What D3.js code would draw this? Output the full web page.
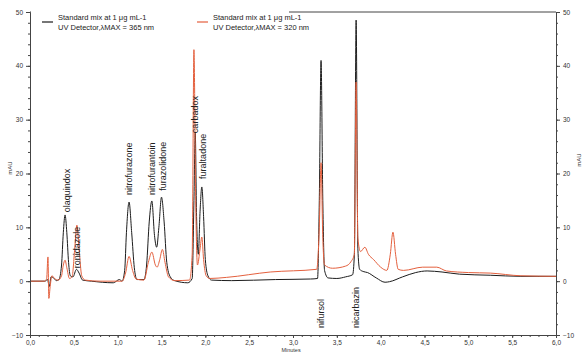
<!DOCTYPE html>
<html>
<head>
<meta charset="utf-8">
<script src="https://cdn.jsdelivr.net/npm/d3@7"></script>
<style>
  body { margin: 0; background: #fff; }
  svg { display: block; font-family: "Liberation Sans", Arial, sans-serif; }
</style>
</head>
<body>
<div id="chart"></div>
<script>
// chromatogram traces, [minutes, mAU]
var black365 = [
  [0, 0], [0.17, 0], [0.20, 0.3], [0.22, -1.0], [0.24, 0.8], [0.27, 0.6], [0.30, 0.1], [0.33, 0.3],
  [0.36, 3], [0.38, 9], [0.40, 12.3], [0.42, 9], [0.44, 3.5], [0.46, 1], [0.49, 0.8], [0.53, 2.2],
  [0.56, 1.5], [0.60, 0.2], [0.70, 0], [0.95, -0.3], [1.02, 0.3], [1.05, 0], [1.08, 2], [1.10, 9],
  [1.13, 14.7], [1.16, 9], [1.19, 2.5], [1.22, 0.3], [1.30, 0.3], [1.33, 3], [1.36, 11], [1.39, 14.9],
  [1.42, 8.5], [1.445, 6.3], [1.47, 10], [1.50, 15.6], [1.53, 11], [1.56, 3.5], [1.60, 0.8], [1.65, 0.1],
  [1.80, -0.3], [1.85, 0.5], [1.87, 15], [1.885, 27.5], [1.90, 12], [1.92, 5], [1.94, 13], [1.96, 17.5],
  [1.98, 12], [2.00, 4], [2.03, 1], [2.07, 0.2], [2.3, 0.1], [2.8, 0.3], [3.2, 0.4], [3.28, 0.5],
  [3.30, 15], [3.32, 41], [3.34, 15], [3.36, 2], [3.40, 0.6], [3.50, 0.5], [3.60, 0.8], [3.68, 1.2],
  [3.70, 5], [3.72, 48.5], [3.74, 6], [3.76, 2.2], [3.80, 1.8], [3.85, 1.6], [3.95, 0.6], [4.05, -0.2],
  [4.10, -0.1], [4.25, 0.8], [4.40, 1.6], [4.53, 1.9], [4.70, 1.7], [4.90, 1.3], [5.25, 1.1], [5.6, 0.9],
  [6.0, 0.9]
];

var orange320 = [
  [0, 0], [0.17, 0], [0.19, 0.5], [0.205, 4.5], [0.215, -3.2], [0.23, -1], [0.25, 1.0], [0.28, 0.5],
  [0.32, 0.2], [0.36, 1], [0.38, 3], [0.40, 3.9], [0.42, 2.5], [0.45, 0.5], [0.48, 0.8], [0.51, 6],
  [0.535, 10.4], [0.56, 6], [0.59, 1], [0.63, 0.2], [0.8, 0], [1.05, 0], [1.09, 1.5], [1.13, 4.6],
  [1.17, 2], [1.21, 0.4], [1.30, 0.2], [1.35, 3.5], [1.39, 5.4], [1.43, 3], [1.45, 2.6], [1.48, 4],
  [1.51, 5.9], [1.54, 3.5], [1.58, 0.8], [1.65, 0.1], [1.82, 0.2], [1.85, 5], [1.87, 43], [1.89, 15],
  [1.91, 3], [1.94, 6], [1.96, 8.2], [1.98, 4], [2.01, 1], [2.05, 0.5], [2.24, 0.7], [2.74, 1.7],
  [3.27, 2.2], [3.30, 10], [3.32, 22], [3.34, 8], [3.36, 3], [3.45, 2.4], [3.6, 2.8], [3.66, 3.6],
  [3.70, 5], [3.72, 37], [3.74, 8], [3.77, 5.5], [3.82, 6.3], [3.86, 5], [3.92, 4], [4.0, 2.6],
  [4.07, 2.0], [4.11, 5], [4.14, 9.1], [4.17, 5], [4.20, 2.2], [4.26, 2.0], [4.48, 2.6], [4.64, 2.6],
  [4.75, 1.9], [5.0, 1.6], [5.25, 1.5], [5.6, 1.0], [6.0, 0.9]
];

// peak names: [name, minutes, mAU where the label starts]
var peakNames = [
  ["olaquindox", 0.42, 12.8], ["ronidazole", 0.54, 2.4], ["nitrofurazone", 1.13, 16],
  ["nitrofurantoin", 1.39, 16], ["furazolidone", 1.52, 16.8], ["carbadox", 1.88, 27.5],
  ["furaltadone", 1.97, 19], ["nifursol", 3.32, -8.7], ["nicarbazin", 3.72, -8.7]
];

var xTicks = [0, 0.5, 1, 1.5, 2, 2.5, 3, 3.5, 4, 4.5, 5, 5.5, 6];
var yTicks = [-10, 0, 10, 20, 30, 40, 50];

var legendItems = [
  ["Standard mix at 1 μg mL-1", "UV Detector,λMAX = 365 nm", "#1c1c1c"],
  ["Standard mix at 1 μg mL-1", "UV Detector,λMAX = 320 nm", "#e4603e"]
];

var fullWidth = 586, fullHeight = 353;
var plotLeft = 30, plotRight = 556, plotTop = 12, plotBottom = 335;
var axisColor = "#444";

var svg = d3.select("#chart").append("svg")
  .attr("width", fullWidth)
  .attr("height", fullHeight);

var xScale = d3.scaleLinear().domain([0, 6]).range([plotLeft, plotRight]);
var yScale = d3.scaleLinear().domain([-10, 50]).range([plotBottom, plotTop]);

var comma = function(d) { return d3.format(".1f")(d).replace(".", ","); };

// top frame line
svg.append("line")
  .attr("x1", plotLeft).attr("x2", plotRight).attr("y1", plotTop).attr("y2", plotTop)
  .attr("stroke", axisColor).attr("stroke-width", 1);

// traces
var line = d3.line()
  .x(function(d) { return xScale(d[0]); })
  .y(function(d) { return yScale(d[1]); })
  .curve(d3.curveMonotoneX);

svg.append("path").datum(black365)
  .attr("d", line).attr("fill", "none")
  .attr("stroke", legendItems[0][2]).attr("stroke-width", 1);

svg.append("path").datum(orange320)
  .attr("d", line).attr("fill", "none")
  .attr("stroke", legendItems[1][2]).attr("stroke-width", 1);

// axes
function styleAxis(g) {
  g.selectAll("path").attr("stroke", axisColor);
  g.selectAll("line").attr("stroke", axisColor);
  g.selectAll("text").attr("fill", "#333").style("font-size", "6.5px");
}

var yMinor = d3.range(-10, 50.1, 2);
var xMinor = d3.range(0, 6.01, 0.1);

svg.append("g")
  .attr("transform", "translate(" + plotLeft + ",0)")
  .call(d3.axisLeft(yScale).tickValues(yMinor).tickSize(2).tickSizeOuter(0).tickFormat(""))
  .call(styleAxis);
svg.append("g")
  .attr("transform", "translate(" + plotLeft + ",0)")
  .call(d3.axisLeft(yScale).tickValues(yTicks).tickSize(4).tickPadding(3).tickSizeOuter(0).tickFormat(d3.format("d")))
  .call(styleAxis);

svg.append("g")
  .attr("transform", "translate(" + plotRight + ",0)")
  .call(d3.axisRight(yScale).tickValues(yMinor).tickSize(2).tickSizeOuter(0).tickFormat(""))
  .call(styleAxis);
svg.append("g")
  .attr("transform", "translate(" + plotRight + ",0)")
  .call(d3.axisRight(yScale).tickValues(yTicks).tickSize(4).tickPadding(3).tickSizeOuter(0).tickFormat(d3.format("d")))
  .call(styleAxis);

svg.append("g")
  .attr("transform", "translate(0," + plotBottom + ")")
  .call(d3.axisBottom(xScale).tickValues(xMinor).tickSize(2).tickSizeOuter(0).tickFormat(""))
  .call(styleAxis);
svg.append("g")
  .attr("transform", "translate(0," + plotBottom + ")")
  .call(d3.axisBottom(xScale).tickValues(xTicks).tickSize(3).tickPadding(2).tickSizeOuter(0).tickFormat(comma))
  .call(styleAxis);

// axis titles
svg.append("text")
  .attr("transform", "translate(" + (xScale(3) - 2) + "," + (fullHeight - 1) + ")")
  .style("text-anchor", "middle").style("font-size", "5.5px").attr("fill", "#333")
  .text("Minutes");

svg.append("text")
  .attr("transform", "translate(12," + yScale(21) + ") rotate(-90)")
  .style("text-anchor", "middle").style("font-size", "6px").attr("fill", "#333")
  .text("mAU");

svg.append("text")
  .attr("transform", "translate(581," + yScale(22.5) + ") rotate(-90)")
  .style("text-anchor", "middle").style("font-size", "6px").attr("fill", "#333")
  .text("mAU");

// peak names, rotated
peakNames.forEach(function(p) {
  svg.append("text")
    .attr("transform", "translate(" + (xScale(p[1]) + 3) + "," + yScale(p[2]) + ") rotate(-90)")
    .style("text-anchor", "start").style("font-size", "9px").attr("fill", "#222")
    .text(p[0]);
});

// legend, on a white box over the frame
svg.append("rect")
  .attr("x", plotLeft + 1).attr("y", plotTop - 3).attr("width", 258).attr("height", 26)
  .attr("fill", "#fff");

legendItems.forEach(function(item, i) {
  var lx = 42 + 155 * i;
  svg.append("line")
    .attr("x1", lx).attr("x2", lx + 11).attr("y1", 22).attr("y2", 22)
    .attr("stroke", item[2]).attr("stroke-width", 1.2);
  svg.append("text")
    .attr("x", lx + 16).attr("y", 19.5)
    .style("font-size", "7.5px").attr("fill", "#222")
    .text(item[0]);
  svg.append("text")
    .attr("x", lx + 16).attr("y", 29.5)
    .style("font-size", "7.5px").attr("fill", "#222")
    .text(item[1]);
});
</script>
</body>
</html>
